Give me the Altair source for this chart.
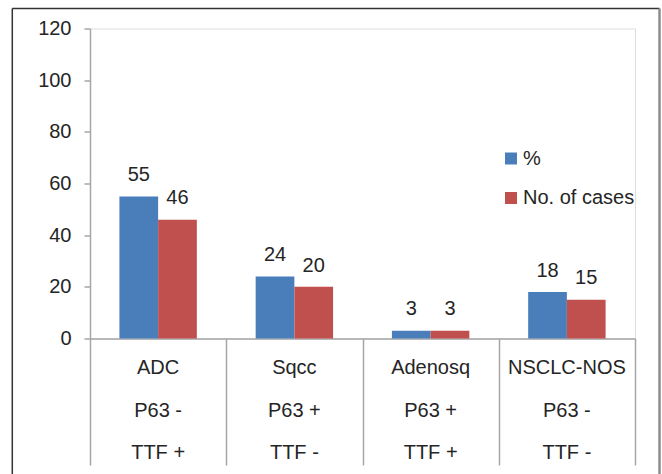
import altair as alt
import pandas as pd

# Tumour groups and their marker profiles
groups = ["ADC", "Sqcc", "Adenosq", "NSCLC-NOS"]
p63_status = ["P63 -", "P63 +", "P63 +", "P63 -"]
ttf_status = ["TTF +", "TTF -", "TTF +", "TTF -"]

# Series values
series = ["%", "No. of cases"]
percent = [55, 24, 3, 18]
cases = [46, 20, 3, 15]

colors = ["#4A7EBB", "#C0504D"]
text_color = "#252525"
axis_gray = "#A6A6A6"
font = "Liberation Sans"
fs = 20

W, H = 545, 310

rows = []
for g, p, c in zip(groups, percent, cases):
    rows.append({"category": g, "series": series[0], "value": p})
    rows.append({"category": g, "series": series[1], "value": c})
bars_df = pd.DataFrame(rows)

table_df = pd.DataFrame({"category": groups, "p63": p63_status, "ttf": ttf_status})

x_enc = alt.X(
    "category:N",
    sort=groups,
    scale=alt.Scale(paddingInner=0, paddingOuter=0),
    axis=alt.Axis(
        title=None,
        labels=False,
        tickBand="extent",
        tickSize=126.5,
        tickColor=axis_gray,
        tickWidth=1.5,
        domainColor=axis_gray,
        domainWidth=1.5,
    ),
)
xo_enc = alt.XOffset(
    "series:N", sort=series, scale=alt.Scale(paddingInner=0, paddingOuter=0.76)
)
y_enc = alt.Y(
    "value:Q",
    scale=alt.Scale(domain=[0, 120], nice=False),
    axis=alt.Axis(
        title=None,
        values=list(range(0, 121, 20)),
        grid=False,
        tickSize=6,
        tickColor=axis_gray,
        tickWidth=1.5,
        domainColor=axis_gray,
        domainWidth=1.5,
        labelFontSize=fs,
        labelColor=text_color,
        labelPadding=13,
        labelFont=font,
    ),
)

bars = (
    alt.Chart(bars_df)
    .mark_bar()
    .encode(
        x=x_enc,
        xOffset=xo_enc,
        y=y_enc,
        color=alt.Color(
            "series:N",
            sort=series,
            scale=alt.Scale(domain=series, range=colors),
            legend=alt.Legend(
                title=None,
                orient="none",
                legendX=411,
                legendY=120,
                symbolType="square",
                symbolSize=144,
                symbolStrokeWidth=0,
                labelFontSize=fs,
                labelFont=font,
                labelColor=text_color,
                labelOffset=2,
                rowPadding=19.5,
                padding=0,
            ),
        ),
    )
)

value_labels = (
    alt.Chart(bars_df)
    .mark_text(dy=-15.3, fontSize=fs, font=font, color=text_color, baseline="alphabetic")
    .encode(x=x_enc, xOffset=xo_enc, y=y_enc, text="value:Q")
)

# Three-row category table under the axis
table_layers = []
for field, ypix in [("category", 345.8), ("p63", 388.8), ("ttf", 430.8)]:
    table_layers.append(
        alt.Chart(table_df)
        .mark_text(fontSize=fs, font=font, color=text_color, baseline="alphabetic")
        .encode(x=x_enc, y=alt.value(ypix), text=f"{field}:N")
    )

# Outer frame of the figure
one = alt.Data(values=[{}])
frame_left = alt.Chart(one).mark_rule(color="#333333", strokeWidth=1.5).encode(
    x=alt.value(-77.7), y=alt.value(-20), y2=alt.value(446)
)
frame_top = alt.Chart(one).mark_rule(color="#333333", strokeWidth=1.5).encode(
    x=alt.value(-77.7), x2=alt.value(569.5), y=alt.value(-20)
)
frame_right = alt.Chart(one).mark_rule(color="#8C8C8C", strokeWidth=2.5).encode(
    x=alt.value(569.5), y=alt.value(-20), y2=alt.value(446)
)

chart = (
    alt.layer(frame_left, frame_top, frame_right, bars, value_labels, *table_layers)
    .properties(
        width=W,
        height=H,
        autosize=alt.AutoSizeParams(type="none"),
        padding={"left": 90, "top": 28.5, "right": 662 - 90 - W, "bottom": 474 - 28.5 - H},
    )
    .configure_view(stroke=None)
    .configure(font=font, background="white")
)

chart.save("out.html", embed_options={"renderer": "svg", "actions": False})
